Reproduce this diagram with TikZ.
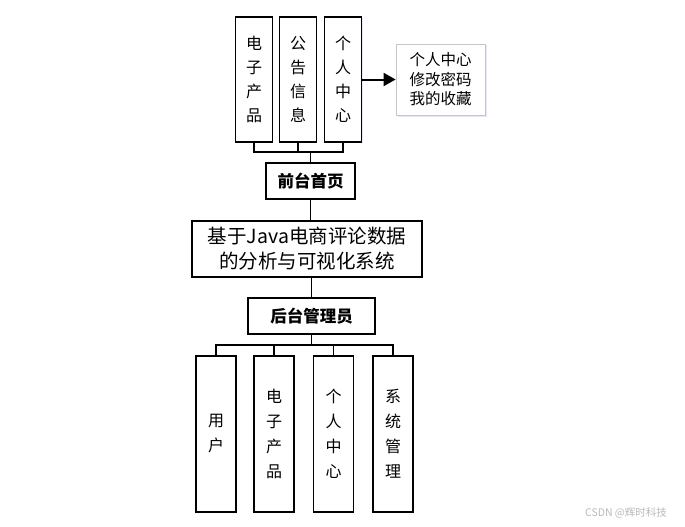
\documentclass[tikz,border=0pt]{standalone}
\usepackage{fontspec}
\setmainfont{Noto Sans CJK SC}
\usetikzlibrary{arrows.meta,shadows}
\begin{document}
\begin{tikzpicture}[x=1pt,y=-1pt,
  box/.style={draw=black,line width=1.1pt,inner sep=0pt,fill=white},
  vbox/.style={box,minimum width=37pt,minimum height=125pt,align=center,font=\fontsize{16}{24}\selectfont},
  bvbox/.style={box,minimum width=40pt,minimum height=156pt,align=center,font=\fontsize{16}{25}\selectfont},
  hbox/.style={box,minimum height=36pt,font=\fontsize{16.5}{20}\selectfont\bfseries},
  link/.style={draw=black,line width=1.1pt}]
\useasboundingbox (0,0) rectangle (685,527);
% top boxes
\node[vbox] (t1) at (254,79.5) {电\\子\\产\\品};
\node[vbox] (t2) at (298,79.5) {公\\告\\信\\息};
\node[vbox,drop shadow={shadow xshift=1pt,shadow yshift=-1pt,fill=blue!15,opacity=0.6}] (t3) at (343,79.5) {个\\人\\中\\心};
\node[box,draw=gray!45,line width=0.8pt,minimum width=89pt,minimum height=71pt,align=left,
      font=\fontsize{15.5}{19.5}\selectfont,
      drop shadow={shadow xshift=1.5pt,shadow yshift=-1.5pt,fill=blue!20,opacity=0.5}] (n) at (440.5,79.5) {个人中心\\修改密码\\我的收藏};
\draw[line width=2pt,-{Triangle[length=12pt,width=13pt]}] (t3.east) -- (n.west);
% front page
\node[hbox,minimum width=89pt] (qt) at (310.5,181) {前台首页};
\coordinate (jt) at (310.5,152);
\draw[link] (t1.south) -- (t1.south |- jt) -- (t3.south |- jt) -- (t3.south);
\draw[link] (t2.south) -- (t2.south |- jt);
\draw[link] (jt) -- (qt.north);
% main
\node[box,minimum width=230pt,minimum height=56pt,align=center,font=\fontsize{19.5}{25}\selectfont] (m) at (307,249) {基于Java电商评论数据\\的分析与可视化系统};
\draw[link] (qt.south) -- (qt.south |- m.north);
% back end
\node[hbox,minimum width=127pt] (ht) at (311.5,316) {后台管理员};
\draw[link] (ht.north |- m.south) -- (ht.north);
% bottom boxes
\node[bvbox] (b1) at (216,434) {用\\户};
\node[bvbox] (b2) at (274,434) {电\\子\\产\\品};
\node[bvbox] (b3) at (333.5,434) {个\\人\\中\\心};
\node[bvbox] (b4) at (393,434) {系\\统\\管\\理};
\coordinate (jb) at (311.5,345);
\draw[link] (ht.south) -- (jb);
\draw[link] (b1.north) -- (b1.north |- jb) -- (b4.north |- jb) -- (b4.north);
\draw[link] (b2.north) -- (b2.north |- jb);
\draw[link] (b3.north) -- (b3.north |- jb);
% watermark
\node[text=gray!55,font=\fontsize{10.5}{12}\selectfont,inner sep=0pt] (wm) at (626,513) {CSDN @辉时科技};
\end{tikzpicture}
\end{document}
